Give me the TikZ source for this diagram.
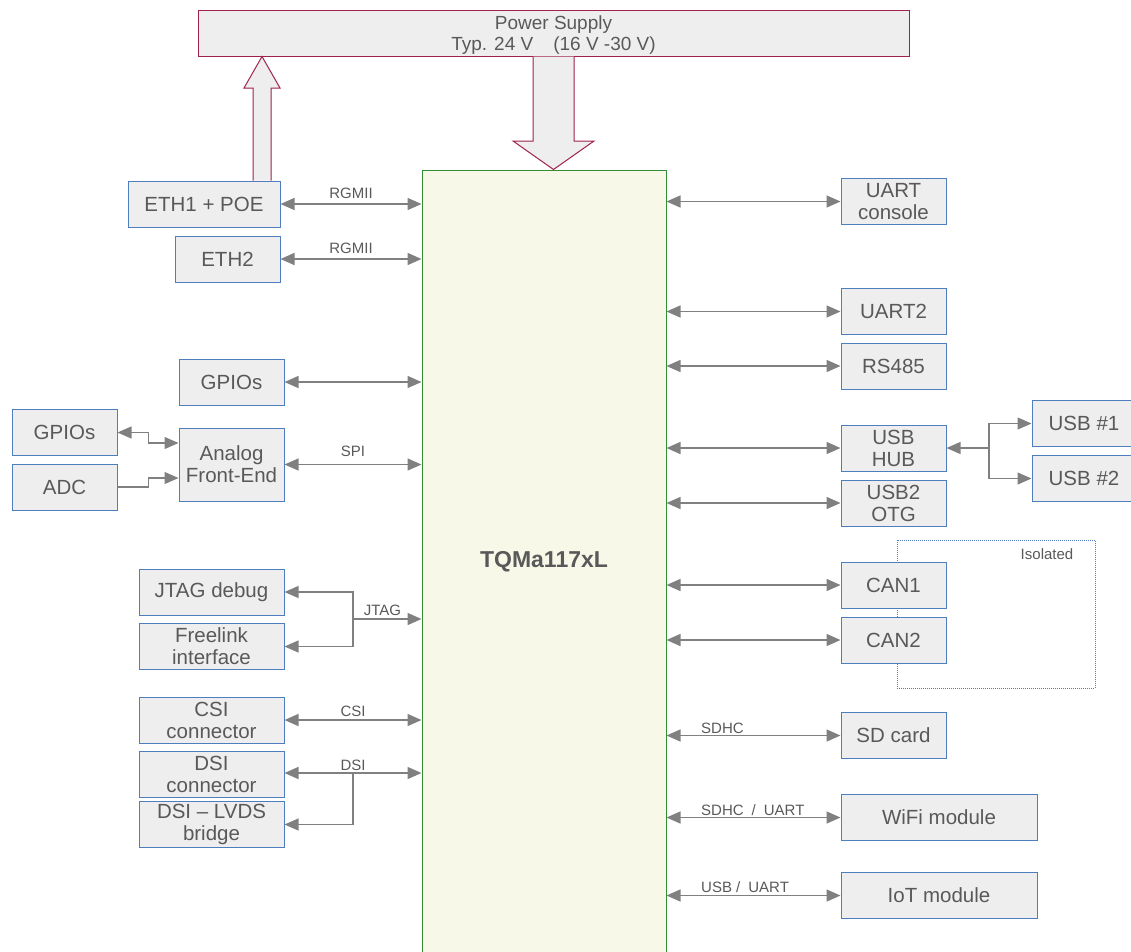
\documentclass[tikz,border=0pt]{standalone}
\usepackage{fontspec}
\setmainfont{Liberation Sans}
\usetikzlibrary{arrows.meta}
\definecolor{boxb}{RGB}{79,125,189}
\definecolor{boxf}{RGB}{238,238,238}
\definecolor{txt}{RGB}{89,89,89}
\definecolor{connc}{RGB}{128,128,128}
\definecolor{mainb}{RGB}{52,140,52}
\definecolor{mainf}{RGB}{247,248,232}
\definecolor{psb}{RGB}{160,34,74}
\begin{document}
\begin{tikzpicture}[x=1pt,y=-1pt,
  >={Triangle[length=14pt,width=12pt]},
  blk/.style={draw=boxb, fill=boxf, line width=1pt, text=txt,
    font=\fontsize{20.5}{22}\selectfont, align=center, inner sep=0pt,
    minimum height=46pt},
  lbl/.style={text=txt, font=\fontsize{15}{16}\selectfont, inner sep=0pt},
  conn/.style={draw=connc, line width=1.5pt},
  pwr/.style={draw=psb, fill=boxf, line width=1pt}]
\useasboundingbox (0,0) rectangle (1131,951);

% main module
\node[draw=mainb, fill=mainf, line width=1pt, minimum width=244pt, minimum height=786pt, inner sep=0pt] (main) at (544,563) {};
\node[text=txt, font=\fontsize{23}{24}\bfseries] (mainlbl) at (544,562) {TQMa117xL};

% power supply
\node[pwr, minimum width=711pt, minimum height=46pt, inner sep=0pt] (ps) at (553.5,33) {};
\node[text=txt, font=\fontsize{19}{21}\selectfont, align=center, inner sep=0pt] (pslbl) at (553.5,35)
  {Power Supply\\Typ. 24 V\hspace{20pt}(16 V -30 V)};

% left boxes
\node[blk, minimum width=152pt] (eth1) at (204,204) {ETH1 + POE};
\node[blk, minimum width=105pt] (eth2) at (227.5,259) {ETH2};
\node[blk, minimum width=105pt] (gpio1) at (231.5,382) {GPIOs};
\node[blk, minimum width=105pt] (gpio2) at (64.5,432.5) {GPIOs};
\node[blk, minimum width=105pt] (adc) at (64.5,487) {ADC};
\node[blk, minimum width=105pt, minimum height=73pt] (afe) at (231.5,464.5) {Analog\\Front-End};
\node[blk, minimum width=145pt] (jtag) at (211.5,592) {JTAG debug};
\node[blk, minimum width=145pt] (free) at (211.5,646.5) {Freelink\\interface};
\node[blk, minimum width=145pt] (csi) at (211.5,720) {CSI\\connector};
\node[blk, minimum width=145pt] (dsi) at (211.5,774.5) {DSI\\connector};
\node[blk, minimum width=145pt] (bridge) at (211.5,824.5) {DSI – LVDS\\bridge};

% isolated frame
\node[draw=boxb, line width=0.8pt, dash pattern=on 1pt off 1pt, minimum width=198pt, minimum height=148pt, inner sep=0pt] (iso) at (996,614) {};
\node[lbl] (isolbl) at (1047,554) {Isolated};

% right boxes
\node[blk, minimum width=105pt] (uartc) at (893.5,201.5) {UART\\console};
\node[blk, minimum width=105pt] (uart2) at (893.5,311.5) {UART2};
\node[blk, minimum width=105pt] (rs485) at (893.5,366) {RS485};
\node[blk, minimum width=105pt] (usbhub) at (893.5,448) {USB\\HUB};
\node[blk, minimum width=105pt] (usbotg) at (893.5,503) {USB2\\OTG};
\node[blk, minimum width=104pt] (usb1) at (1084,423.5) {USB \#1};
\node[blk, minimum width=104pt] (usb2) at (1084,478.5) {USB \#2};
\node[blk, minimum width=105pt] (can1) at (893.5,585) {CAN1};
\node[blk, minimum width=105pt] (can2) at (893.5,640) {CAN2};
\node[blk, minimum width=105pt] (sd) at (893.5,735.5) {SD card};
\node[blk, minimum width=196pt] (wifi) at (939,817.5) {WiFi module};
\node[blk, minimum width=196pt] (iot) at (939,895.5) {IoT module};

% power arrows
\path[pwr] (eth1.north -| 253,0) -- (253,88) -- (244,88) -- (ps.south -| 262,0) -- (280,88) -- (271,88) -- (eth1.north -| 271,0);
\path[pwr] (ps.south -| 533,0) -- (533,141) -- (513,141) -- (main.north -| 553.5,0) -- (594,141) -- (574,141) -- (ps.south -| 574,0);

% left connectors
\draw[conn,<->] (eth1.east) -- (eth1.east -| main.west) node[lbl, midway, above=5pt] (l1) {RGMII};
\draw[conn,<->] (eth2.east) -- (eth2.east -| main.west) node[lbl, midway, above=5pt] (l2) {RGMII};
\draw[conn,<->] (gpio1.east) -- (gpio1.east -| main.west);
\draw[conn,<->] (afe.east) -- (afe.east -| main.west) node[lbl, midway, above=7pt] (l3) {SPI};
\draw[conn,<->, line width=1.1pt] (gpio2.east) -- ++(31,0) |- ([yshift=21.5pt]afe.west);
\draw[conn,->, line width=1.1pt] (adc.east) -- ++(31,0) |- ([yshift=-13.5pt]afe.west);

\coordinate (jx) at (353,619);
\draw[conn,<->, line width=1.1pt] (jtag.east) -| (jx) |- (free.east);
\draw[conn,->] (jx) -- (jx -| main.west) node[lbl, pos=0.43, above=3pt] (l4) {JTAG};
\draw[conn,<->] (csi.east) -- (csi.east -| main.west) node[lbl, pos=0.5, above=3pt] (l5) {CSI};
\coordinate (dx) at (353,773);
\draw[conn,<->] (dsi.east |- dx) -- (dx -| main.west) node[lbl, pos=0.5, above=2pt] (l6) {DSI};
\draw[conn,->, line width=1.1pt] (dx) |- (bridge.east);

% right connectors
\draw[conn,<->] (main.east |- uartc.west) -- (uartc.west);
\draw[conn,<->] (main.east |- uart2.west) -- (uart2.west);
\draw[conn,<->] (main.east |- rs485.west) -- (rs485.west);
\draw[conn,<->] (main.east |- usbhub.west) -- (usbhub.west);
\draw[conn,<->] (main.east |- usbotg.west) -- (usbotg.west);
\draw[conn,<->] (main.east |- can1.west) -- (can1.west);
\draw[conn,<->] (main.east |- can2.west) -- (can2.west);
\draw[conn,<->] (main.east |- sd.west) -- (sd.west);
\draw[conn,<->] (main.east |- wifi.west) -- (wifi.west);
\draw[conn,<->] (main.east |- iot.west) -- (iot.west);
\node[lbl, anchor=west] (l7) at (701,728) {SDHC};
\node[lbl, anchor=west] (l8) at (701,810) {SDHC\hspace{8pt}/\hspace{8pt}UART};
\node[lbl, anchor=west] (l9) at (701,887) {USB /\hspace{8pt}UART};

\coordinate (ux) at (989,448);
\draw[conn,->, line width=1.1pt] (ux) -- (usbhub.east);
\draw[conn,->, line width=1.1pt] (ux) |- (usb1.west);
\draw[conn,->, line width=1.1pt] (ux) |- (usb2.west);
\end{tikzpicture}
\end{document}
